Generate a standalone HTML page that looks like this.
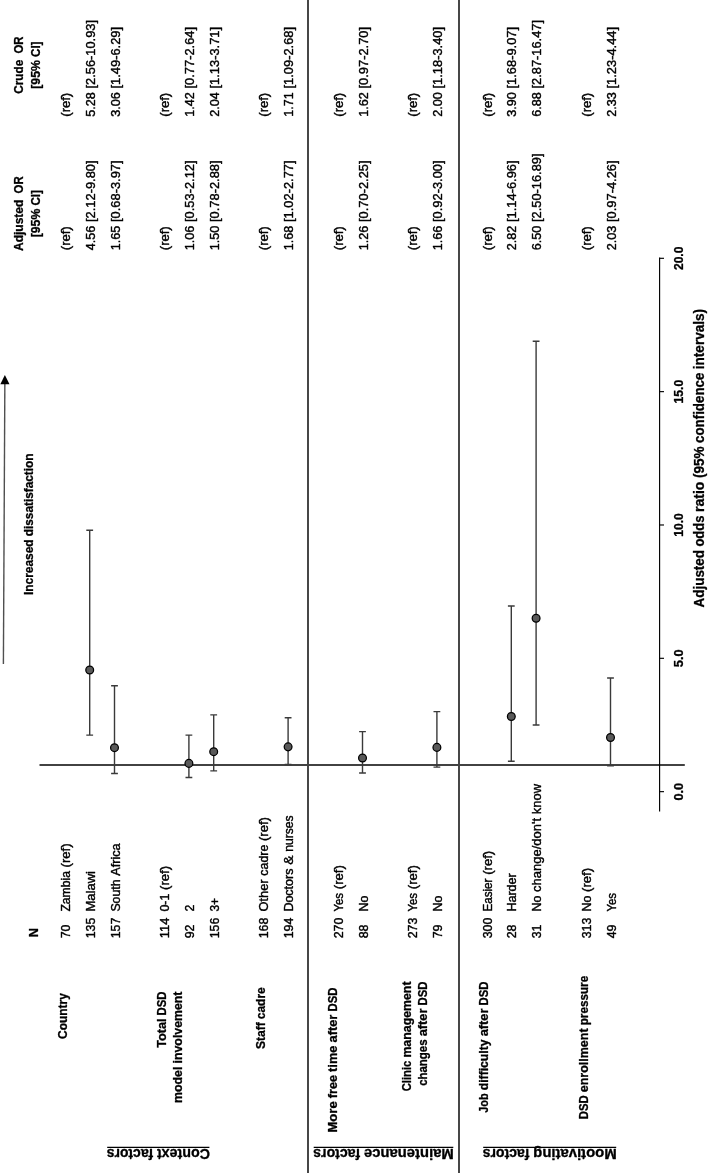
<!DOCTYPE html>
<html lang="en">
<head>
<meta charset="utf-8">
<title>Forest plot: factors associated with dissatisfaction</title>
<style>
html,body{margin:0;padding:0;background:#fff;}
svg{display:block;will-change:transform;}
text{font-kerning:normal;stroke:#000;stroke-width:0.4px;stroke-linejoin:round;}
text[font-weight="700"]{stroke-width:0.3px;}
</style>
</head>
<body>
<svg width="708" height="1173" viewBox="0 0 708 1173">
<rect x="0" y="0" width="708" height="1173" fill="#ffffff"/>
<g transform="translate(0,1173) rotate(-90)" font-family='"Liberation Sans", sans-serif'>
<line x1="0" y1="308.0" x2="1173" y2="308.0" stroke="#424242" stroke-width="1.95"/>
<line x1="0" y1="459.0" x2="1173" y2="459.0" stroke="#424242" stroke-width="1.95"/>
<line x1="408.02" y1="39.5" x2="408.02" y2="684.8" stroke="#424242" stroke-width="1.85"/>
<line x1="361.40" y1="659.6" x2="915.40" y2="659.6" stroke="#000" stroke-width="1.15"/>
<line x1="381.35" y1="659.6" x2="381.35" y2="664.0" stroke="#000" stroke-width="1.15"/>
<text y="682.50" font-size="12.0" font-weight="700" fill="#000"><tspan x="372.45" textLength="17.80" lengthAdjust="spacingAndGlyphs">0.0</tspan></text>
<line x1="514.69" y1="659.6" x2="514.69" y2="664.0" stroke="#000" stroke-width="1.15"/>
<text y="682.50" font-size="12.0" font-weight="700" fill="#000"><tspan x="505.79" textLength="17.80" lengthAdjust="spacingAndGlyphs">5.0</tspan></text>
<line x1="648.02" y1="659.6" x2="648.02" y2="664.0" stroke="#000" stroke-width="1.15"/>
<text y="682.50" font-size="12.0" font-weight="700" fill="#000"><tspan x="636.27" textLength="23.50" lengthAdjust="spacingAndGlyphs">10.0</tspan></text>
<line x1="781.36" y1="659.6" x2="781.36" y2="664.0" stroke="#000" stroke-width="1.15"/>
<text y="682.50" font-size="12.0" font-weight="700" fill="#000"><tspan x="769.61" textLength="23.50" lengthAdjust="spacingAndGlyphs">15.0</tspan></text>
<line x1="914.69" y1="659.6" x2="914.69" y2="664.0" stroke="#000" stroke-width="1.15"/>
<text y="682.50" font-size="12.0" font-weight="700" fill="#000"><tspan x="902.94" textLength="23.50" lengthAdjust="spacingAndGlyphs">20.0</tspan></text>
<text y="703.90" font-size="13.8" font-weight="700" fill="#000"><tspan x="565.60" textLength="57.37" lengthAdjust="spacingAndGlyphs">Adjusted</tspan> <tspan x="626.45" textLength="31.00" lengthAdjust="spacingAndGlyphs">odds</tspan> <tspan x="660.94" textLength="30.53" lengthAdjust="spacingAndGlyphs">ratio</tspan> <tspan x="694.95" textLength="31.68" lengthAdjust="spacingAndGlyphs">(95%</tspan> <tspan x="730.11" textLength="70.19" lengthAdjust="spacingAndGlyphs">confidence</tspan> <tspan x="803.79" textLength="60.31" lengthAdjust="spacingAndGlyphs">intervals)</tspan></text>
<line x1="509.00" y1="3.4" x2="790.00" y2="4.85" stroke="#505050" stroke-width="1.4"/>
<polygon points="788.80,0.3 788.80,9.5 798.00,4.9" fill="#000"/>
<text y="32.60" font-size="12.0" font-weight="700" fill="#000"><tspan x="578.00" textLength="55.66" lengthAdjust="spacingAndGlyphs">Increased</tspan> <tspan x="636.79" textLength="82.71" lengthAdjust="spacingAndGlyphs">dissatisfaction</tspan></text>
<text y="38.40" font-size="12.0" font-weight="700" fill="#000"><tspan x="235.75" textLength="9.09" lengthAdjust="spacingAndGlyphs">N</tspan></text>
<text y="23.10" font-size="12.0" font-weight="700" fill="#000"><tspan x="921.97" textLength="51.34" lengthAdjust="spacingAndGlyphs">Adjusted</tspan> <tspan x="979.54" textLength="17.09" lengthAdjust="spacingAndGlyphs">OR</tspan></text>
<text y="39.80" font-size="12.0" font-weight="700" fill="#000"><tspan x="935.69" textLength="28.59" lengthAdjust="spacingAndGlyphs">[95%</tspan> <tspan x="967.39" textLength="15.52" lengthAdjust="spacingAndGlyphs">CI]</tspan></text>
<text y="23.10" font-size="12.0" font-weight="700" fill="#000"><tspan x="1079.26" textLength="33.95" lengthAdjust="spacingAndGlyphs">Crude</tspan> <tspan x="1119.45" textLength="17.09" lengthAdjust="spacingAndGlyphs">OR</tspan></text>
<text y="39.80" font-size="12.0" font-weight="700" fill="#000"><tspan x="1084.29" textLength="28.59" lengthAdjust="spacingAndGlyphs">[95%</tspan> <tspan x="1115.99" textLength="15.52" lengthAdjust="spacingAndGlyphs">CI]</tspan></text>
<text y="66.80" font-size="12.0" font-weight="700" fill="#000"><tspan x="134.04" textLength="45.76" lengthAdjust="spacingAndGlyphs">Country</tspan></text>
<text y="166.00" font-size="12.0" font-weight="700" fill="#000"><tspan x="125.22" textLength="29.25" lengthAdjust="spacingAndGlyphs">Total</tspan> <tspan x="157.59" textLength="23.91" lengthAdjust="spacingAndGlyphs">DSD</tspan></text>
<text y="182.20" font-size="12.0" font-weight="700" fill="#000"><tspan x="70.04" textLength="36.38" lengthAdjust="spacingAndGlyphs">model</tspan> <tspan x="109.54" textLength="71.96" lengthAdjust="spacingAndGlyphs">involvement</tspan></text>
<text y="264.80" font-size="12.0" font-weight="700" fill="#000"><tspan x="123.91" textLength="26.85" lengthAdjust="spacingAndGlyphs">Staff</tspan> <tspan x="153.87" textLength="31.83" lengthAdjust="spacingAndGlyphs">cadre</tspan></text>
<text y="336.95" font-size="12.0" font-weight="700" fill="#000"><tspan x="40.43" textLength="31.32" lengthAdjust="spacingAndGlyphs">More</tspan> <tspan x="74.86" textLength="23.14" lengthAdjust="spacingAndGlyphs">free</tspan> <tspan x="101.12" textLength="26.34" lengthAdjust="spacingAndGlyphs">time</tspan> <tspan x="130.57" textLength="27.80" lengthAdjust="spacingAndGlyphs">after</tspan> <tspan x="161.49" textLength="23.91" lengthAdjust="spacingAndGlyphs">DSD</tspan></text>
<text y="411.10" font-size="12.0" font-weight="700" fill="#000"><tspan x="81.64" textLength="30.66" lengthAdjust="spacingAndGlyphs">Clinic</tspan> <tspan x="115.41" textLength="76.09" lengthAdjust="spacingAndGlyphs">management</tspan></text>
<text y="427.20" font-size="12.0" font-weight="700" fill="#000"><tspan x="87.17" textLength="46.38" lengthAdjust="spacingAndGlyphs">changes</tspan> <tspan x="136.67" textLength="27.80" lengthAdjust="spacingAndGlyphs">after</tspan> <tspan x="167.59" textLength="23.91" lengthAdjust="spacingAndGlyphs">DSD</tspan></text>
<text y="488.20" font-size="12.0" font-weight="700" fill="#000"><tspan x="60.23" textLength="19.40" lengthAdjust="spacingAndGlyphs">Job</tspan> <tspan x="82.74" textLength="50.81" lengthAdjust="spacingAndGlyphs">difficulty</tspan> <tspan x="136.67" textLength="27.80" lengthAdjust="spacingAndGlyphs">after</tspan> <tspan x="167.59" textLength="23.91" lengthAdjust="spacingAndGlyphs">DSD</tspan></text>
<text y="587.60" font-size="12.0" font-weight="700" fill="#000"><tspan x="53.74" textLength="23.91" lengthAdjust="spacingAndGlyphs">DSD</tspan> <tspan x="80.77" textLength="63.81" lengthAdjust="spacingAndGlyphs">enrollment</tspan> <tspan x="147.70" textLength="49.50" lengthAdjust="spacingAndGlyphs">pressure</tspan></text>
<text y="69.95" font-size="12.0" fill="#000"><tspan x="234.70" textLength="13.79" lengthAdjust="spacingAndGlyphs">70</tspan></text>
<text y="69.95" font-size="12.0" fill="#000"><tspan x="261.40" textLength="40.50" lengthAdjust="spacingAndGlyphs">Zambia</tspan> <tspan x="305.64" textLength="23.90" lengthAdjust="spacingAndGlyphs">(ref)</tspan></text>
<text y="69.95" font-size="12.0" fill="#000"><tspan x="922.80" textLength="23.90" lengthAdjust="spacingAndGlyphs">(ref)</tspan></text>
<text y="69.95" font-size="12.0" fill="#000"><tspan x="1056.30" textLength="23.90" lengthAdjust="spacingAndGlyphs">(ref)</tspan></text>
<text y="94.75" font-size="12.0" fill="#000"><tspan x="234.70" textLength="20.68" lengthAdjust="spacingAndGlyphs">135</tspan></text>
<text y="94.75" font-size="12.0" fill="#000"><tspan x="261.40" textLength="40.60" lengthAdjust="spacingAndGlyphs">Malawi</tspan></text>
<text y="94.75" font-size="12.0" fill="#000"><tspan x="922.80" textLength="24.43" lengthAdjust="spacingAndGlyphs">4.56</tspan> <tspan x="951.02" textLength="61.55" lengthAdjust="spacingAndGlyphs">[2.12-9.80]</tspan></text>
<text y="94.75" font-size="12.0" fill="#000"><tspan x="1056.30" textLength="24.41" lengthAdjust="spacingAndGlyphs">5.28</tspan> <tspan x="1084.50" textLength="68.47" lengthAdjust="spacingAndGlyphs">[2.56-10.93]</tspan></text>
<path d="M437.88 89.70H642.69M437.88 86.30v6.8M642.69 86.30v6.8" fill="none" stroke="#3a3a3a" stroke-width="1.4"/>
<circle cx="502.95" cy="89.70" r="3.9" fill="#595959" stroke="#000" stroke-width="1.25"/>
<text y="119.55" font-size="12.0" fill="#000"><tspan x="234.70" textLength="20.68" lengthAdjust="spacingAndGlyphs">157</tspan></text>
<text y="119.55" font-size="12.0" fill="#000"><tspan x="261.40" textLength="32.24" lengthAdjust="spacingAndGlyphs">South</tspan> <tspan x="297.38" textLength="32.14" lengthAdjust="spacingAndGlyphs">Africa</tspan></text>
<text y="119.55" font-size="12.0" fill="#000"><tspan x="922.80" textLength="24.43" lengthAdjust="spacingAndGlyphs">1.65</tspan> <tspan x="951.02" textLength="61.55" lengthAdjust="spacingAndGlyphs">[0.68-3.97]</tspan></text>
<text y="119.55" font-size="12.0" fill="#000"><tspan x="1056.30" textLength="24.43" lengthAdjust="spacingAndGlyphs">3.06</tspan> <tspan x="1084.52" textLength="61.55" lengthAdjust="spacingAndGlyphs">[1.49-6.29]</tspan></text>
<path d="M399.48 114.50H487.22M399.48 111.10v6.8M487.22 111.10v6.8" fill="none" stroke="#3a3a3a" stroke-width="1.4"/>
<circle cx="425.35" cy="114.50" r="3.9" fill="#595959" stroke="#000" stroke-width="1.25"/>
<text y="169.15" font-size="12.0" fill="#000"><tspan x="234.70" textLength="20.68" lengthAdjust="spacingAndGlyphs">114</tspan></text>
<text y="169.15" font-size="12.0" fill="#000"><tspan x="261.40" textLength="17.95" lengthAdjust="spacingAndGlyphs">0-1</tspan> <tspan x="283.09" textLength="23.90" lengthAdjust="spacingAndGlyphs">(ref)</tspan></text>
<text y="169.15" font-size="12.0" fill="#000"><tspan x="922.80" textLength="23.90" lengthAdjust="spacingAndGlyphs">(ref)</tspan></text>
<text y="169.15" font-size="12.0" fill="#000"><tspan x="1056.30" textLength="23.90" lengthAdjust="spacingAndGlyphs">(ref)</tspan></text>
<text y="193.95" font-size="12.0" fill="#000"><tspan x="234.70" textLength="13.79" lengthAdjust="spacingAndGlyphs">92</tspan></text>
<text y="193.95" font-size="12.0" fill="#000"><tspan x="261.40" textLength="6.89" lengthAdjust="spacingAndGlyphs">2</tspan></text>
<text y="193.95" font-size="12.0" fill="#000"><tspan x="922.80" textLength="24.43" lengthAdjust="spacingAndGlyphs">1.06</tspan> <tspan x="951.02" textLength="61.55" lengthAdjust="spacingAndGlyphs">[0.53-2.12]</tspan></text>
<text y="193.95" font-size="12.0" fill="#000"><tspan x="1056.30" textLength="24.43" lengthAdjust="spacingAndGlyphs">1.42</tspan> <tspan x="1084.52" textLength="61.55" lengthAdjust="spacingAndGlyphs">[0.77-2.64]</tspan></text>
<path d="M395.48 188.90H437.88M395.48 185.50v6.8M437.88 185.50v6.8" fill="none" stroke="#3a3a3a" stroke-width="1.4"/>
<circle cx="409.62" cy="188.90" r="3.9" fill="#595959" stroke="#000" stroke-width="1.25"/>
<text y="218.75" font-size="12.0" fill="#000"><tspan x="234.70" textLength="20.68" lengthAdjust="spacingAndGlyphs">156</tspan></text>
<text y="218.75" font-size="12.0" fill="#000"><tspan x="261.40" textLength="13.66" lengthAdjust="spacingAndGlyphs">3+</tspan></text>
<text y="218.75" font-size="12.0" fill="#000"><tspan x="922.80" textLength="24.43" lengthAdjust="spacingAndGlyphs">1.50</tspan> <tspan x="951.02" textLength="61.55" lengthAdjust="spacingAndGlyphs">[0.78-2.88]</tspan></text>
<text y="218.75" font-size="12.0" fill="#000"><tspan x="1056.30" textLength="24.43" lengthAdjust="spacingAndGlyphs">2.04</tspan> <tspan x="1084.52" textLength="61.55" lengthAdjust="spacingAndGlyphs">[1.13-3.71]</tspan></text>
<path d="M402.15 213.70H458.15M402.15 210.30v6.8M458.15 210.30v6.8" fill="none" stroke="#3a3a3a" stroke-width="1.4"/>
<circle cx="421.35" cy="213.70" r="3.9" fill="#595959" stroke="#000" stroke-width="1.25"/>
<text y="268.35" font-size="12.0" fill="#000"><tspan x="234.70" textLength="20.68" lengthAdjust="spacingAndGlyphs">168</tspan></text>
<text y="268.35" font-size="12.0" fill="#000"><tspan x="261.40" textLength="32.21" lengthAdjust="spacingAndGlyphs">Other</tspan> <tspan x="297.35" textLength="30.92" lengthAdjust="spacingAndGlyphs">cadre</tspan> <tspan x="332.01" textLength="23.90" lengthAdjust="spacingAndGlyphs">(ref)</tspan></text>
<text y="268.35" font-size="12.0" fill="#000"><tspan x="922.80" textLength="23.90" lengthAdjust="spacingAndGlyphs">(ref)</tspan></text>
<text y="268.35" font-size="12.0" fill="#000"><tspan x="1056.30" textLength="23.90" lengthAdjust="spacingAndGlyphs">(ref)</tspan></text>
<text y="293.15" font-size="12.0" fill="#000"><tspan x="234.70" textLength="20.68" lengthAdjust="spacingAndGlyphs">194</tspan></text>
<text y="293.15" font-size="12.0" fill="#000"><tspan x="261.40" textLength="43.06" lengthAdjust="spacingAndGlyphs">Doctors</tspan> <tspan x="308.20" textLength="9.27" lengthAdjust="spacingAndGlyphs">&amp;</tspan> <tspan x="321.21" textLength="36.43" lengthAdjust="spacingAndGlyphs">nurses</tspan></text>
<text y="293.15" font-size="12.0" fill="#000"><tspan x="922.80" textLength="24.43" lengthAdjust="spacingAndGlyphs">1.68</tspan> <tspan x="951.02" textLength="61.55" lengthAdjust="spacingAndGlyphs">[1.02-2.77]</tspan></text>
<text y="293.15" font-size="12.0" fill="#000"><tspan x="1056.30" textLength="24.43" lengthAdjust="spacingAndGlyphs">1.71</tspan> <tspan x="1084.52" textLength="61.55" lengthAdjust="spacingAndGlyphs">[1.09-2.68]</tspan></text>
<path d="M408.55 288.10H455.22M408.55 284.70v6.8M455.22 284.70v6.8" fill="none" stroke="#3a3a3a" stroke-width="1.4"/>
<circle cx="426.15" cy="288.10" r="3.9" fill="#595959" stroke="#000" stroke-width="1.25"/>
<text y="342.75" font-size="12.0" fill="#000"><tspan x="234.70" textLength="20.68" lengthAdjust="spacingAndGlyphs">270</tspan></text>
<text y="342.75" font-size="12.0" fill="#000"><tspan x="261.40" textLength="18.71" lengthAdjust="spacingAndGlyphs">Yes</tspan> <tspan x="283.85" textLength="23.90" lengthAdjust="spacingAndGlyphs">(ref)</tspan></text>
<text y="342.75" font-size="12.0" fill="#000"><tspan x="922.80" textLength="23.90" lengthAdjust="spacingAndGlyphs">(ref)</tspan></text>
<text y="342.75" font-size="12.0" fill="#000"><tspan x="1056.30" textLength="23.90" lengthAdjust="spacingAndGlyphs">(ref)</tspan></text>
<text y="367.55" font-size="12.0" fill="#000"><tspan x="234.70" textLength="13.79" lengthAdjust="spacingAndGlyphs">88</tspan></text>
<text y="367.55" font-size="12.0" fill="#000"><tspan x="261.40" textLength="15.95" lengthAdjust="spacingAndGlyphs">No</tspan></text>
<text y="367.55" font-size="12.0" fill="#000"><tspan x="922.80" textLength="24.43" lengthAdjust="spacingAndGlyphs">1.26</tspan> <tspan x="951.02" textLength="61.55" lengthAdjust="spacingAndGlyphs">[0.70-2.25]</tspan></text>
<text y="367.55" font-size="12.0" fill="#000"><tspan x="1056.30" textLength="24.43" lengthAdjust="spacingAndGlyphs">1.62</tspan> <tspan x="1084.52" textLength="61.55" lengthAdjust="spacingAndGlyphs">[0.97-2.70]</tspan></text>
<path d="M400.02 362.50H441.35M400.02 359.10v6.8M441.35 359.10v6.8" fill="none" stroke="#3a3a3a" stroke-width="1.4"/>
<circle cx="414.95" cy="362.50" r="3.9" fill="#595959" stroke="#000" stroke-width="1.25"/>
<text y="417.15" font-size="12.0" fill="#000"><tspan x="234.70" textLength="20.68" lengthAdjust="spacingAndGlyphs">273</tspan></text>
<text y="417.15" font-size="12.0" fill="#000"><tspan x="261.40" textLength="18.71" lengthAdjust="spacingAndGlyphs">Yes</tspan> <tspan x="283.85" textLength="23.90" lengthAdjust="spacingAndGlyphs">(ref)</tspan></text>
<text y="417.15" font-size="12.0" fill="#000"><tspan x="922.80" textLength="23.90" lengthAdjust="spacingAndGlyphs">(ref)</tspan></text>
<text y="417.15" font-size="12.0" fill="#000"><tspan x="1056.30" textLength="23.90" lengthAdjust="spacingAndGlyphs">(ref)</tspan></text>
<text y="441.95" font-size="12.0" fill="#000"><tspan x="234.70" textLength="13.79" lengthAdjust="spacingAndGlyphs">79</tspan></text>
<text y="441.95" font-size="12.0" fill="#000"><tspan x="261.40" textLength="15.95" lengthAdjust="spacingAndGlyphs">No</tspan></text>
<text y="441.95" font-size="12.0" fill="#000"><tspan x="922.80" textLength="24.43" lengthAdjust="spacingAndGlyphs">1.66</tspan> <tspan x="951.02" textLength="61.55" lengthAdjust="spacingAndGlyphs">[0.92-3.00]</tspan></text>
<text y="441.95" font-size="12.0" fill="#000"><tspan x="1056.30" textLength="24.43" lengthAdjust="spacingAndGlyphs">2.00</tspan> <tspan x="1084.52" textLength="61.55" lengthAdjust="spacingAndGlyphs">[1.18-3.40]</tspan></text>
<path d="M405.88 436.90H461.35M405.88 433.50v6.8M461.35 433.50v6.8" fill="none" stroke="#3a3a3a" stroke-width="1.4"/>
<circle cx="425.62" cy="436.90" r="3.9" fill="#595959" stroke="#000" stroke-width="1.25"/>
<text y="491.55" font-size="12.0" fill="#000"><tspan x="234.70" textLength="20.68" lengthAdjust="spacingAndGlyphs">300</tspan></text>
<text y="491.55" font-size="12.0" fill="#000"><tspan x="261.40" textLength="33.09" lengthAdjust="spacingAndGlyphs">Easier</tspan> <tspan x="298.23" textLength="23.90" lengthAdjust="spacingAndGlyphs">(ref)</tspan></text>
<text y="491.55" font-size="12.0" fill="#000"><tspan x="922.80" textLength="23.90" lengthAdjust="spacingAndGlyphs">(ref)</tspan></text>
<text y="491.55" font-size="12.0" fill="#000"><tspan x="1056.30" textLength="23.90" lengthAdjust="spacingAndGlyphs">(ref)</tspan></text>
<text y="516.35" font-size="12.0" fill="#000"><tspan x="234.70" textLength="13.79" lengthAdjust="spacingAndGlyphs">28</tspan></text>
<text y="516.35" font-size="12.0" fill="#000"><tspan x="261.40" textLength="38.38" lengthAdjust="spacingAndGlyphs">Harder</tspan></text>
<text y="516.35" font-size="12.0" fill="#000"><tspan x="922.80" textLength="24.43" lengthAdjust="spacingAndGlyphs">2.82</tspan> <tspan x="951.02" textLength="61.55" lengthAdjust="spacingAndGlyphs">[1.14-6.96]</tspan></text>
<text y="516.35" font-size="12.0" fill="#000"><tspan x="1056.30" textLength="24.43" lengthAdjust="spacingAndGlyphs">3.90</tspan> <tspan x="1084.52" textLength="61.55" lengthAdjust="spacingAndGlyphs">[1.68-9.07]</tspan></text>
<path d="M411.75 511.30H566.95M411.75 507.90v6.8M566.95 507.90v6.8" fill="none" stroke="#3a3a3a" stroke-width="1.4"/>
<circle cx="456.55" cy="511.30" r="3.9" fill="#595959" stroke="#000" stroke-width="1.25"/>
<text y="541.15" font-size="12.0" fill="#000"><tspan x="234.70" textLength="13.79" lengthAdjust="spacingAndGlyphs">31</tspan></text>
<text y="541.15" font-size="12.0" fill="#000"><tspan x="261.40" textLength="15.95" lengthAdjust="spacingAndGlyphs">No</tspan> <tspan x="281.09" textLength="73.97" lengthAdjust="spacingAndGlyphs">change/don't</tspan> <tspan x="358.79" textLength="30.21" lengthAdjust="spacingAndGlyphs">know</tspan></text>
<text y="541.15" font-size="12.0" fill="#000"><tspan x="922.80" textLength="24.41" lengthAdjust="spacingAndGlyphs">6.50</tspan> <tspan x="951.00" textLength="68.47" lengthAdjust="spacingAndGlyphs">[2.50-16.89]</tspan></text>
<text y="541.15" font-size="12.0" fill="#000"><tspan x="1056.30" textLength="24.41" lengthAdjust="spacingAndGlyphs">6.88</tspan> <tspan x="1084.50" textLength="68.47" lengthAdjust="spacingAndGlyphs">[2.87-16.47]</tspan></text>
<path d="M448.02 536.10H831.76M448.02 532.70v6.8M831.76 532.70v6.8" fill="none" stroke="#3a3a3a" stroke-width="1.4"/>
<circle cx="554.69" cy="536.10" r="3.9" fill="#595959" stroke="#000" stroke-width="1.25"/>
<text y="590.75" font-size="12.0" fill="#000"><tspan x="234.70" textLength="20.68" lengthAdjust="spacingAndGlyphs">313</tspan></text>
<text y="590.75" font-size="12.0" fill="#000"><tspan x="261.40" textLength="15.95" lengthAdjust="spacingAndGlyphs">No</tspan> <tspan x="281.09" textLength="23.90" lengthAdjust="spacingAndGlyphs">(ref)</tspan></text>
<text y="590.75" font-size="12.0" fill="#000"><tspan x="922.80" textLength="23.90" lengthAdjust="spacingAndGlyphs">(ref)</tspan></text>
<text y="590.75" font-size="12.0" fill="#000"><tspan x="1056.30" textLength="23.90" lengthAdjust="spacingAndGlyphs">(ref)</tspan></text>
<text y="615.55" font-size="12.0" fill="#000"><tspan x="234.70" textLength="13.79" lengthAdjust="spacingAndGlyphs">49</tspan></text>
<text y="615.55" font-size="12.0" fill="#000"><tspan x="261.40" textLength="18.71" lengthAdjust="spacingAndGlyphs">Yes</tspan></text>
<text y="615.55" font-size="12.0" fill="#000"><tspan x="922.80" textLength="24.43" lengthAdjust="spacingAndGlyphs">2.03</tspan> <tspan x="951.02" textLength="61.55" lengthAdjust="spacingAndGlyphs">[0.97-4.26]</tspan></text>
<text y="615.55" font-size="12.0" fill="#000"><tspan x="1056.30" textLength="24.43" lengthAdjust="spacingAndGlyphs">2.33</tspan> <tspan x="1084.52" textLength="61.55" lengthAdjust="spacingAndGlyphs">[1.23-4.44]</tspan></text>
<path d="M407.22 610.50H494.95M407.22 607.10v6.8M494.95 607.10v6.8" fill="none" stroke="#3a3a3a" stroke-width="1.4"/>
<circle cx="435.48" cy="610.50" r="3.9" fill="#595959" stroke="#000" stroke-width="1.25"/>
<g transform="translate(23.70,209.90) rotate(-90)">
<text y="0.00" font-size="14.3" font-weight="700" fill="#000"><tspan x="0.00" textLength="52.96" lengthAdjust="spacingAndGlyphs">Context</tspan> <tspan x="56.63" textLength="46.57" lengthAdjust="spacingAndGlyphs">factors</tspan></text>
</g>
<line x1="25.60" y1="107.2" x2="25.60" y2="209.4" stroke="#000" stroke-width="1.2"/>
<g transform="translate(23.70,453.80) rotate(-90)">
<text y="0.00" font-size="14.3" font-weight="700" fill="#000"><tspan x="0.00" textLength="89.93" lengthAdjust="spacingAndGlyphs">Maintenance</tspan> <tspan x="93.64" textLength="46.96" lengthAdjust="spacingAndGlyphs">factors</tspan></text>
</g>
<line x1="25.60" y1="313.7" x2="25.60" y2="453.3" stroke="#000" stroke-width="1.2"/>
<g transform="translate(23.70,616.70) rotate(-90)">
<text y="0.00" font-size="14.3" font-weight="700" fill="#000"><tspan x="0.00" textLength="83.50" lengthAdjust="spacingAndGlyphs">Mootivating</tspan> <tspan x="87.19" textLength="46.81" lengthAdjust="spacingAndGlyphs">factors</tspan></text>
</g>
<line x1="25.60" y1="483.2" x2="25.60" y2="616.2" stroke="#000" stroke-width="1.2"/>
</g>
</svg>
</body>
</html>
